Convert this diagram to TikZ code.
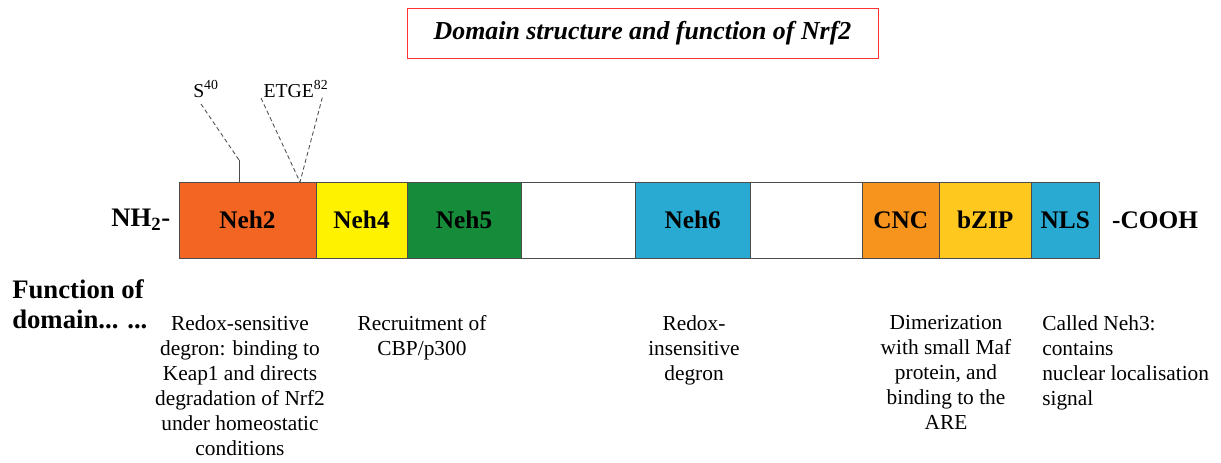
\documentclass[tikz,border=0pt]{standalone}
\usepackage{fontspec}
\setmainfont{Liberation Serif}
\usetikzlibrary{positioning}
\definecolor{neh2col}{RGB}{242,101,34}
\definecolor{neh4col}{RGB}{255,242,0}
\definecolor{neh5col}{RGB}{22,140,58}
\definecolor{neh6col}{RGB}{41,170,210}
\definecolor{cnccol}{RGB}{247,148,29}
\definecolor{bzipcol}{RGB}{255,200,30}
\definecolor{nlscol}{RGB}{41,170,210}
\tikzset{
  dombox/.style={draw=black!70, line width=0.6pt, minimum height=1.9cm, inner sep=0pt, outer sep=0pt, font=\fontsize{18}{20}\selectfont\bfseries},
  func/.style={align=center, anchor=north, inner sep=0pt, font=\fontsize{15.2}{17.8}\selectfont},
  site/.style={black!70, densely dashed, line width=0.6pt}
}
\begin{document}
\begin{tikzpicture}[x=0.025cm,y=-0.025cm]
  \useasboundingbox (0,0) rectangle (1221,462);
  \node (title) [draw=red!80, line width=0.6pt, minimum width=11.775cm, minimum height=1.25cm, font=\fontsize{18.4}{21}\selectfont\bfseries\itshape] at (642.5,33) {Domain structure and function of Nrf2};
  \node (neh2) [dombox, fill=neh2col, minimum width=3.425cm, anchor=north west] at (179,182) {Neh2};
  \node (neh4) [dombox, fill=neh4col, minimum width=2.275cm, right=0pt of neh2] {Neh4};
  \node (neh5) [dombox, fill=neh5col, minimum width=2.85cm, right=0pt of neh4] {Neh5};
  \node (gap1) [dombox, fill=white, minimum width=2.85cm, right=0pt of neh5] {};
  \node (neh6) [dombox, fill=neh6col, minimum width=2.875cm, right=0pt of gap1] {Neh6};
  \node (gap2) [dombox, fill=white, minimum width=2.8cm, right=0pt of neh6] {};
  \node (cnc) [dombox, fill=cnccol, minimum width=1.925cm, right=0pt of gap2] {CNC};
  \node (bzip) [dombox, fill=bzipcol, minimum width=2.3cm, right=0pt of cnc] {bZIP};
  \node (nls) [dombox, fill=nlscol, minimum width=1.7cm, right=0pt of bzip] {NLS};
  \node (nh2) [left=6pt of neh2, inner sep=0pt, font=\fontsize{19}{21}\selectfont\bfseries] {NH\textsubscript{2}-};
  \node (cooh) [right=9pt of nls, inner sep=0pt, font=\fontsize{18}{20}\selectfont\bfseries] {-COOH};
  \node (s40) [inner sep=0pt, anchor=base, font=\fontsize{14}{16}\selectfont] at (206,97) {S\textsuperscript{40}};
  \node (etge) [inner sep=0pt, anchor=base, font=\fontsize{14}{16}\selectfont] at (296,97) {ETGE\textsuperscript{82}};
  \coordinate (s40 end) at (201,104);
  \coordinate (s40 kink) at (239,160);
  \coordinate (etge left) at (261,98);
  \coordinate (etge right) at (323,95);
  \coordinate (etge foot) at (300,182);
  \draw[site] (s40 end) -- (s40 kink);
  \draw[black!70, line width=0.6pt] (s40 kink) -- (s40 kink |- neh2.north);
  \draw[site] (etge left) -- (etge foot) -- (etge right);
  \node (func head) [inner sep=0pt, anchor=north west, align=left, font=\fontsize{19}{21.3}\selectfont\bfseries] at (12,279) {Function of\\domain... ...};
  \node (f neh2) [func] at (240,315) {Redox-sensitive\\degron: binding to\\Keap1 and directs\\degradation of Nrf2\\under homeostatic\\conditions};
  \node (f neh5) [func] at (422,315) {Recruitment of\\CBP/p300};
  \node (f neh6) [func] at (694,315) {Redox-\\insensitive\\degron};
  \node (f bzip) [func] at (946,315) {Dimerization\\with small Maf\\protein, and\\binding to the\\ARE};
  \node (f nls) [func, align=left, anchor=north west] at (1042,315) {Called Neh3:\\contains\\nuclear localisation\\signal};
\end{tikzpicture}
\end{document}
